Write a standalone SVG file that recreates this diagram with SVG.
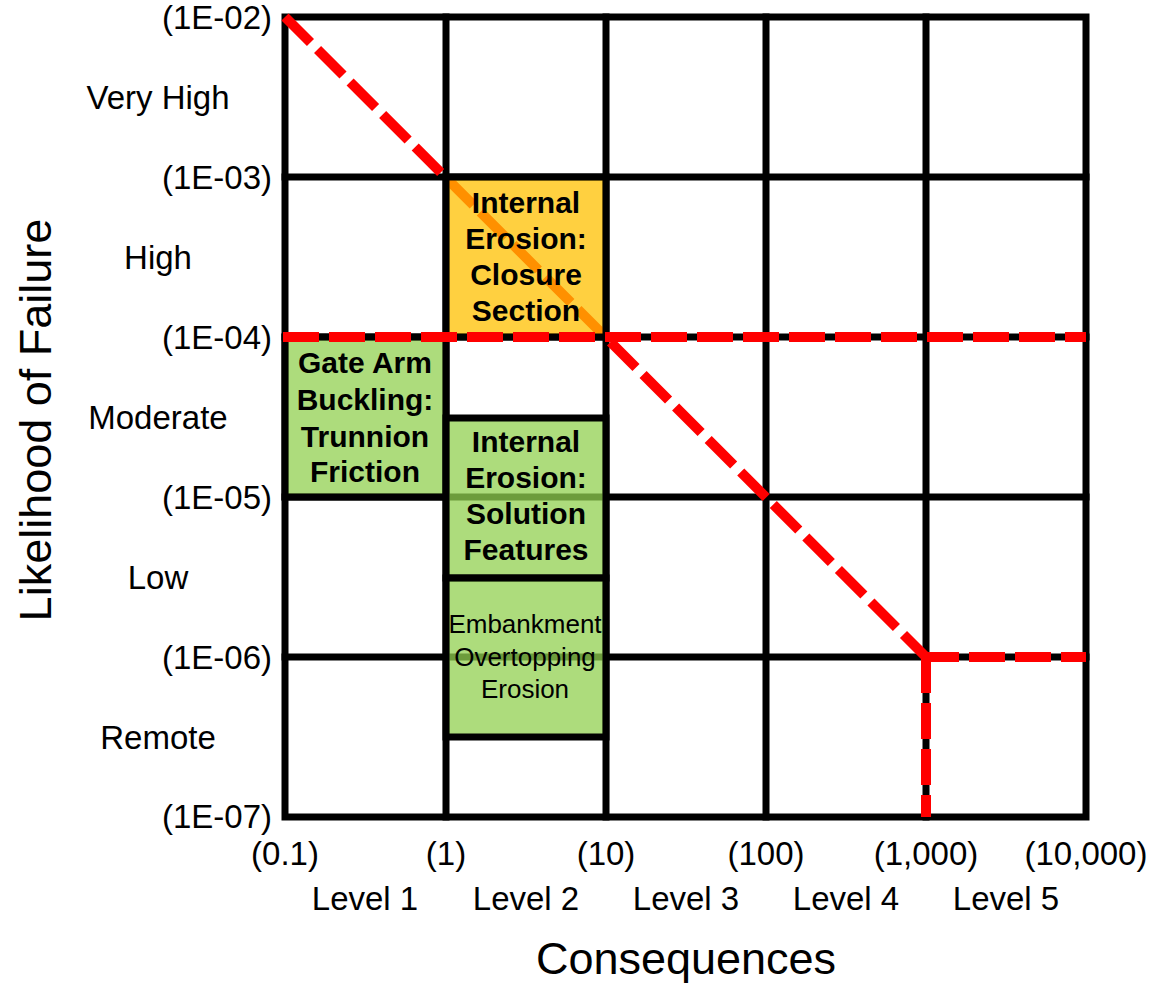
<svg xmlns="http://www.w3.org/2000/svg" width="1155" height="983" viewBox="0 0 1155 983">
<style>
.grid{stroke:#000;stroke-width:7;fill:none;stroke-linecap:square}
.red{stroke:#FF0000;stroke-width:10;fill:none;stroke-dasharray:36 10}
.box{stroke:#000;stroke-width:7}
.org{fill:#FFC000;fill-opacity:0.75}
.grn{fill:#92D050;fill-opacity:0.75}
text{font-family:"Liberation Sans",Arial,sans-serif;fill:#000}
.yl{font-size:33px;text-anchor:end}
.lv{font-size:33px;text-anchor:middle}
.bt{font-size:30px;font-weight:bold;text-anchor:middle}
.st{font-size:26px;text-anchor:middle}
.title{font-size:45px;text-anchor:middle}
</style>
<rect width="1155" height="983" fill="#fff"/>
<g id="grid" class="grid">
<rect x="285" y="17" width="801" height="800"/>
<line x1="446" y1="17" x2="446" y2="817"/>
<line x1="606" y1="17" x2="606" y2="817"/>
<line x1="766" y1="17" x2="766" y2="817"/>
<line x1="926" y1="17" x2="926" y2="817"/>
<line x1="285" y1="177" x2="1086" y2="177"/>
<line x1="285" y1="337" x2="1086" y2="337"/>
<line x1="285" y1="497" x2="1086" y2="497"/>
<line x1="285" y1="657" x2="1086" y2="657"/>
</g>
<g id="connectors">
<line class="red" x1="285" y1="17" x2="926" y2="657"/>
</g>
<g id="box-closure">
<rect class="box org" x="446" y="177" width="160" height="160"/>
<text class="bt" x="526" y="213">Internal</text>
<text class="bt" x="526" y="249">Erosion:</text>
<text class="bt" x="526" y="285">Closure</text>
<text class="bt" x="526" y="321">Section</text>
</g>
<g id="box-gate">
<rect class="box grn" x="285" y="337" width="161" height="160"/>
<text class="bt" x="365" y="373">Gate Arm</text>
<text class="bt" x="365" y="410">Buckling:</text>
<text class="bt" x="365" y="447">Trunnion</text>
<text class="bt" x="365" y="482">Friction</text>
</g>
<g id="box-solution">
<rect class="box grn" x="446" y="418" width="160" height="160"/>
<text class="bt" x="526" y="452">Internal</text>
<text class="bt" x="526" y="488">Erosion:</text>
<text class="bt" x="526" y="524">Solution</text>
<text class="bt" x="526" y="560">Features</text>
</g>
<g id="box-embankment">
<rect class="box grn" x="446" y="578" width="160" height="159"/>
<text class="st" x="525" y="633">Embankment</text>
<text class="st" x="525" y="666">Overtopping</text>
<text class="st" x="525" y="698">Erosion</text>
</g>
<g id="limit-lines">
<line class="red" x1="283" y1="337" x2="1086" y2="337"/>
<line class="red" x1="923" y1="657" x2="1086" y2="657"/>
<line class="red" x1="926" y1="657" x2="926" y2="817"/>
</g>
<g id="y-labels">
<text class="yl" x="272" y="29">(1E-02)</text>
<text class="yl" x="272" y="189">(1E-03)</text>
<text class="yl" x="272" y="349">(1E-04)</text>
<text class="yl" x="272" y="509">(1E-05)</text>
<text class="yl" x="272" y="669">(1E-06)</text>
<text class="yl" x="272" y="828">(1E-07)</text>
<text class="lv" x="158" y="109">Very High</text>
<text class="lv" x="158" y="269">High</text>
<text class="lv" x="158" y="429">Moderate</text>
<text class="lv" x="158" y="589">Low</text>
<text class="lv" x="158" y="749">Remote</text>
</g>
<g id="x-labels">
<text class="lv" x="285" y="865">(0.1)</text>
<text class="lv" x="446" y="865">(1)</text>
<text class="lv" x="606" y="865">(10)</text>
<text class="lv" x="766" y="865">(100)</text>
<text class="lv" x="926" y="865">(1,000)</text>
<text class="lv" x="1086" y="865">(10,000)</text>
<text class="lv" x="365" y="910">Level 1</text>
<text class="lv" x="526" y="910">Level 2</text>
<text class="lv" x="686" y="910">Level 3</text>
<text class="lv" x="846" y="910">Level 4</text>
<text class="lv" x="1006" y="910">Level 5</text>
</g>
<text class="title" x="686" y="974">Consequences</text>
<text class="title" transform="translate(51,420) rotate(-90)">Likelihood of Failure</text>
</svg>
